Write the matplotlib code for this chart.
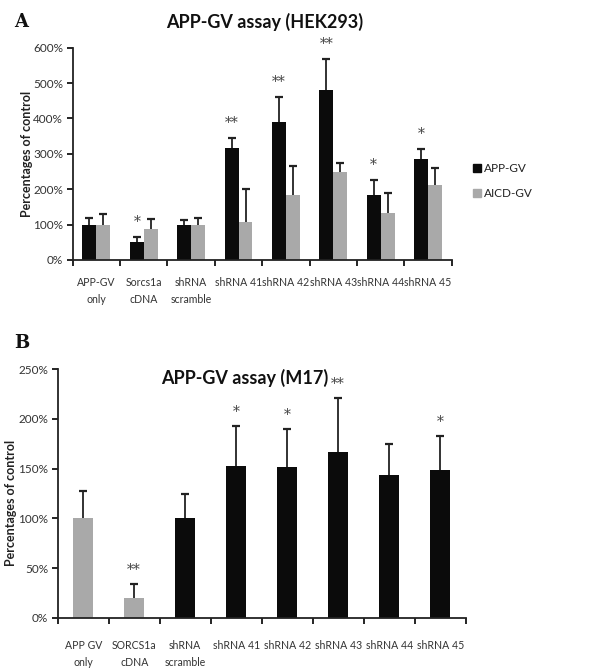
import matplotlib
matplotlib.use("Agg")
import matplotlib.pyplot as plt
from matplotlib.patches import Patch
import numpy as np

plt.rcParams['font.family'] = ['Lato', 'DejaVu Sans']

# ---------------- Panel A data ----------------
cats_a = ["APP-GV\nonly", "Sorcs1a\ncDNA", "shRNA\nscramble", "shRNA 41",
          "shRNA 42", "shRNA 43", "shRNA 44", "shRNA 45"]
app_gv = [100, 52, 100, 316, 390, 480, 185, 285]
app_gv_err = [18, 13, 13, 29, 70, 87, 40, 28]
aicd_gv = [100, 88, 100, 107, 183, 250, 132, 213]
aicd_gv_err = [30, 28, 20, 93, 84, 25, 58, 47]
stars_a = ["", "*", "", "**", "**", "**", "*", "*"]

# ---------------- Panel B data ----------------
cats_b = ["APP GV\nonly", "SORCS1a\ncDNA", "shRNA\nscramble", "shRNA 41",
          "shRNA 42", "shRNA 43", "shRNA 44", "shRNA 45"]
m17 = [100, 20, 100, 153, 152, 167, 144, 149]
m17_err = [28, 14, 24, 40, 38, 54, 31, 34]
m17_gray = [True, True, False, False, False, False, False, False]
stars_b = ["", "**", "", "*", "*", "**", "", "*"]

BLACK = "#0b0b0b"
GRAY = "#a9a9a9"
ECOL = "#222222"
W, H = 602, 671
fig = plt.figure(figsize=(W / 100, H / 100), dpi=100)


def ax_rect(l, t, r, b):
    return [l / W, 1 - b / H, (r - l) / W, (b - t) / H]


def style(ax, ylab_x, ylab_y):
    for s in ["top", "right"]:
        ax.spines[s].set_visible(False)
    for s in ["left", "bottom"]:
        ax.spines[s].set_linewidth(1.3)
        ax.spines[s].set_color("#222222")
    ax.set_xlim(-0.5, 7.5)
    ax.set_xticks(np.arange(-0.5, 8, 1))
    ax.set_xticklabels([])
    ax.tick_params(axis="x", which="major", length=4, width=1.2, direction="out")
    ax.tick_params(axis="y", length=4, width=1.2, direction="out", labelsize=8.5,
                   labelcolor="#333333", pad=3)
    ax.set_ylabel("Percentages of control", fontsize=9, fontweight="bold",
                  color="#222222")
    ax.yaxis.set_label_coords(ylab_x, ylab_y)


def up_err(ax, xs, tops, errs):
    tops = np.asarray(tops, float)
    errs = np.asarray(errs, float)
    ax.errorbar(xs, tops, yerr=[np.zeros_like(errs), errs], fmt="none",
                ecolor=ECOL, elinewidth=1.3, capsize=0)
    ax.scatter(xs, tops + errs, marker="_", s=30, linewidths=1.6, color=ECOL,
               zorder=3)


# ---------------- Panel A ----------------
axA = fig.add_axes(ax_rect(72.7, 47.7, 451.7, 260))
x = np.arange(len(cats_a))
bw = 0.295
axA.bar(x - bw / 2, app_gv, bw, color=BLACK, label="APP-GV")
axA.bar(x + bw / 2, aicd_gv, bw, color=GRAY, label="AICD-GV")
up_err(axA, x - bw / 2, app_gv, app_gv_err)
up_err(axA, x + bw / 2, aicd_gv, aicd_gv_err)
axA.set_ylim(0, 600)
axA.set_yticks(range(0, 601, 100))
axA.set_yticklabels([f"{v}%" for v in range(0, 601, 100)])
style(axA, -0.105, 0.5)
axA.set_xticks(x, minor=True)
axA.set_xticklabels(cats_a, minor=True, fontsize=7.6, color="#333333",
                    linespacing=1.7)
axA.tick_params(axis="x", which="minor", length=0, pad=12)
for i, s in enumerate(stars_a):
    if s:
        axA.annotate(s, (x[i] - bw / 2, app_gv[i] + app_gv_err[i]),
                     xytext=(0, 11), textcoords="offset points",
                     ha="center", va="center", fontsize=10, color="#444444",
                     family="DejaVu Serif")
fig.text(265 / W, 1 - 22 / H, "APP-GV assay (HEK293)", ha="center", va="center",
         fontsize=13, fontweight="bold", color="#111111")
fig.text(14 / W, 1 - 22 / H, "A", ha="left", va="center", fontsize=13,
         fontweight="bold", family="DejaVu Serif", color="#111111")
leg = axA.legend(handles=[Patch(color=BLACK, label="APP-GV"),
                          Patch(color=GRAY, label="AICD-GV")],
                 loc="center left", bbox_to_anchor=(462 / W, 1 - 181 / H),
                 bbox_transform=fig.transFigure, frameon=False, fontsize=8.5,
                 handlelength=0.7, handleheight=0.7, handletextpad=0.3,
                 labelspacing=1.2)
for t in leg.get_texts():
    t.set_color("#222222")

# ---------------- Panel B ----------------
axB = fig.add_axes(ax_rect(57.7, 369.3, 465.7, 617.7))
xb = np.arange(len(cats_b))
bwb = 0.39
colors_b = [GRAY if g else BLACK for g in m17_gray]
axB.bar(xb, m17, bwb, color=colors_b)
up_err(axB, xb, m17, m17_err)
axB.set_ylim(0, 250)
axB.set_yticks(range(0, 251, 50))
axB.set_yticklabels([f"{v}%" for v in range(0, 251, 50)])
style(axB, -0.1, 0.46)
axB.set_xticks(xb, minor=True)
axB.set_xticklabels(cats_b, minor=True, fontsize=7.6, color="#333333",
                    linespacing=1.7)
axB.tick_params(axis="x", which="minor", length=0, pad=16)
for i, s in enumerate(stars_b):
    if s:
        axB.annotate(s, (xb[i], m17[i] + m17_err[i]),
                     xytext=(0, 10), textcoords="offset points",
                     ha="center", va="center", fontsize=10, color="#444444",
                     family="DejaVu Serif")
fig.text(245 / W, 1 - 378 / H, "APP-GV assay (M17)", ha="center", va="center",
         fontsize=13, fontweight="bold", color="#111111")
fig.text(14 / W, 1 - 343 / H, "B", ha="left", va="center", fontsize=13,
         fontweight="bold", family="DejaVu Serif", color="#111111")

fig.savefig("out.png", dpi=100, facecolor="white")
